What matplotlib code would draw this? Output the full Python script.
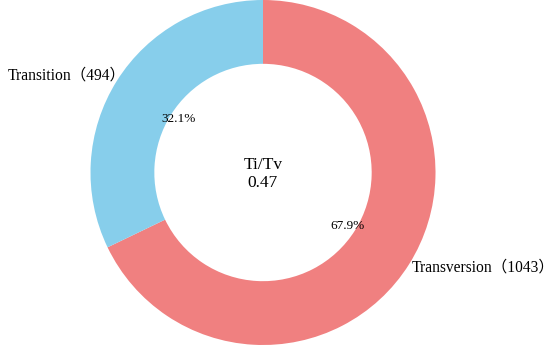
import matplotlib.pyplot as plt

labels = ['Transversion\uff081043\uff09', 'Transition\uff08494\uff09']
counts = [1043, 494]
colors = ['#F08080', '#87CEEB']
ratio_text = 'Ti/Tv\n0.47'

fam = ['Liberation Serif', 'Noto Sans CJK SC']

fig = plt.figure(figsize=(5.5, 3.45), dpi=100)
ax = fig.add_axes([(263 - 172.5) / 550, 0, 345 / 550, 1])

wedges, texts, autotexts = ax.pie(
    counts, labels=labels, colors=colors, startangle=90, counterclock=False,
    autopct='%1.1f%%', pctdistance=0.58, labeldistance=1.03,
    wedgeprops=dict(width=0.37, edgecolor='none'),
    textprops=dict(family=fam, fontsize=11.2))
for t in autotexts:
    t.set_fontsize(9.5)
# full-width bracket leaves blank room on the right, pull the left label in
texts[1].set_position((-0.795, 0.565))
texts[0].set_position((0.86, -0.55))
ax.text(0, -0.01, ratio_text, ha='center', va='center', family=fam, fontsize=12.5,
        linespacing=1.15)
ax.set_xlim(-1, 1)
ax.set_ylim(-1, 1)
ax.set_aspect('equal')

fig.savefig('out.png', dpi=100)
